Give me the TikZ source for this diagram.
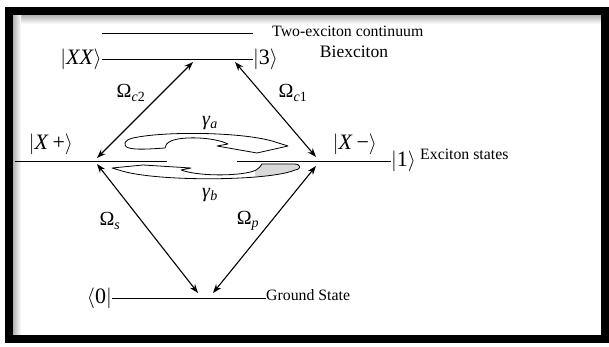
\documentclass[tikz,border=0pt]{standalone}
\usepackage{fontspec}
\setmainfont{Liberation Serif}
\usetikzlibrary{arrows.meta}
\newcommand{\myket}[1]{$|$#1$\rangle$}
\newcommand{\mybra}[1]{$\langle$#1$|$}
\newcommand{\upswirl}{(165,148) .. controls (150,149) and (136,150) .. (129,148)
 .. controls (122,146) and (124,140) .. (133,138)
 .. controls (165,131) and (240,132) .. (272,141)
 -- (288,146) -- (257,153) -- (217,146) -- (228,144)
 .. controls (214,137) and (182,136) .. (171,141)
 .. controls (167,143) and (165,145) .. (165,148) -- cycle}
\newcommand{\lowswirl}{(262,164) -- (294,164)
 .. controls (301,164) and (302,169) .. (295,170)
 .. controls (270,181) and (160,182) .. (122,171)
 -- (112,168) -- (143,165) -- (191,168) -- (181,170)
 .. controls (200,177) and (245,176) .. (256,170)
 .. controls (259,168) and (261,166) .. (262,164) -- cycle}
\begin{document}
\begin{tikzpicture}[x=1pt,y=-1pt,
 lvl/.style={line width=0.9pt},
 arr/.style={line width=1.1pt,{Stealth[length=9pt,width=6.5pt]}-{Stealth[length=9pt,width=6.5pt]}},
 ketn/.style={inner sep=0pt,font=\fontsize{22}{25}\selectfont},
 txt/.style={inner sep=0pt,font=\fontsize{15.8}{18}\selectfont},
 bigtxt/.style={inner sep=0pt,font=\fontsize{17.5}{20}\selectfont},
 lab/.style={inner sep=0pt,font=\fontsize{20}{22}\selectfont},
 swirl/.style={draw,line width=0.8pt,line join=round}]
\useasboundingbox (0,0) rectangle (609,347);
\fill[white] (0,0) rectangle (609,347);
% frame
\shade[top color=black!30,bottom color=white] (13,15) rectangle (601,24);
\shade[left color=black!30,right color=white] (13,15) rectangle (21,335);
\draw[line width=8pt] (9,11) rectangle (605,339);

% levels
\coordinate (cL) at (102,33);
\coordinate (cR) at (253,33);
\draw[lvl] (cL) -- (cR);
\node[txt,anchor=west] (cont) at (272,31) {Two-exciton continuum};

\node[ketn,anchor=east] (xx) at (102,59) {\myket{\textit{XX}}};
\node[ketn,anchor=west] (three) at (253,59) {\myket{3}};
\draw[lvl] (xx.east) -- (three.west);
\node[bigtxt] (bx) at (354,52) {Biexciton};

\coordinate (eL) at (15,161);
\coordinate (eM1) at (167,161);
\coordinate (eM2) at (237,161);
\node[ketn,anchor=west] (one) at (391,161) {\myket{1}};
\draw[lvl] (eL) -- (eM1);
\draw[lvl] (eM2) -- (one.west);
\node[ketn] (xp) at (51,144) {\myket{\textit{X}\,+}};
\node[ketn] (xm) at (355,144) {\myket{\textit{X}\,−}};
\node[txt,anchor=west] (es) at (420,154) {Exciton states};

\node[ketn,anchor=east] (zero) at (112,298) {\mybra{0}};
\coordinate (gR) at (266,298);
\draw[lvl] (zero.east) -- (gR);
\node[txt,anchor=west] (gs) at (266,295) {Ground State};

% transitions
\coordinate (a1) at (97,158);
\coordinate (a2) at (193,62);
\coordinate (b1) at (235,62);
\coordinate (b2) at (316,157);
\coordinate (c1) at (97,164);
\coordinate (c2) at (198,293);
\coordinate (d1) at (316,166);
\coordinate (d2) at (213,293);
\draw[arr] (a1) -- (a2);
\draw[arr] (b1) -- (b2);
\draw[arr] (c1) -- (c2);
\draw[arr] (d1) -- (d2);

\node[lab] (oc2) at (131,93) {Ω\textsubscript{\textit{c}2}};
\node[lab] (oc1) at (293,93) {Ω\textsubscript{\textit{c}1}};
\node[lab] (os) at (110,221) {Ω\textsubscript{\textit{s}}};
\node[lab] (op) at (248,221) {Ω\textsubscript{\textit{p}}};
\node[lab] (ga) at (210,123) {\textit{γ}\textsubscript{\textit{a}}};
\node[lab] (gb) at (210,195) {\textit{γ}\textsubscript{\textit{b}}};

% swirl arrows
\fill[white] \upswirl;
\fill[white] \lowswirl;
\begin{scope}
\clip \lowswirl;
\fill[black!15] (255,160) rectangle (305,180);
\end{scope}
\draw[swirl] \upswirl;
\draw[swirl] \lowswirl;
\end{tikzpicture}
\end{document}
